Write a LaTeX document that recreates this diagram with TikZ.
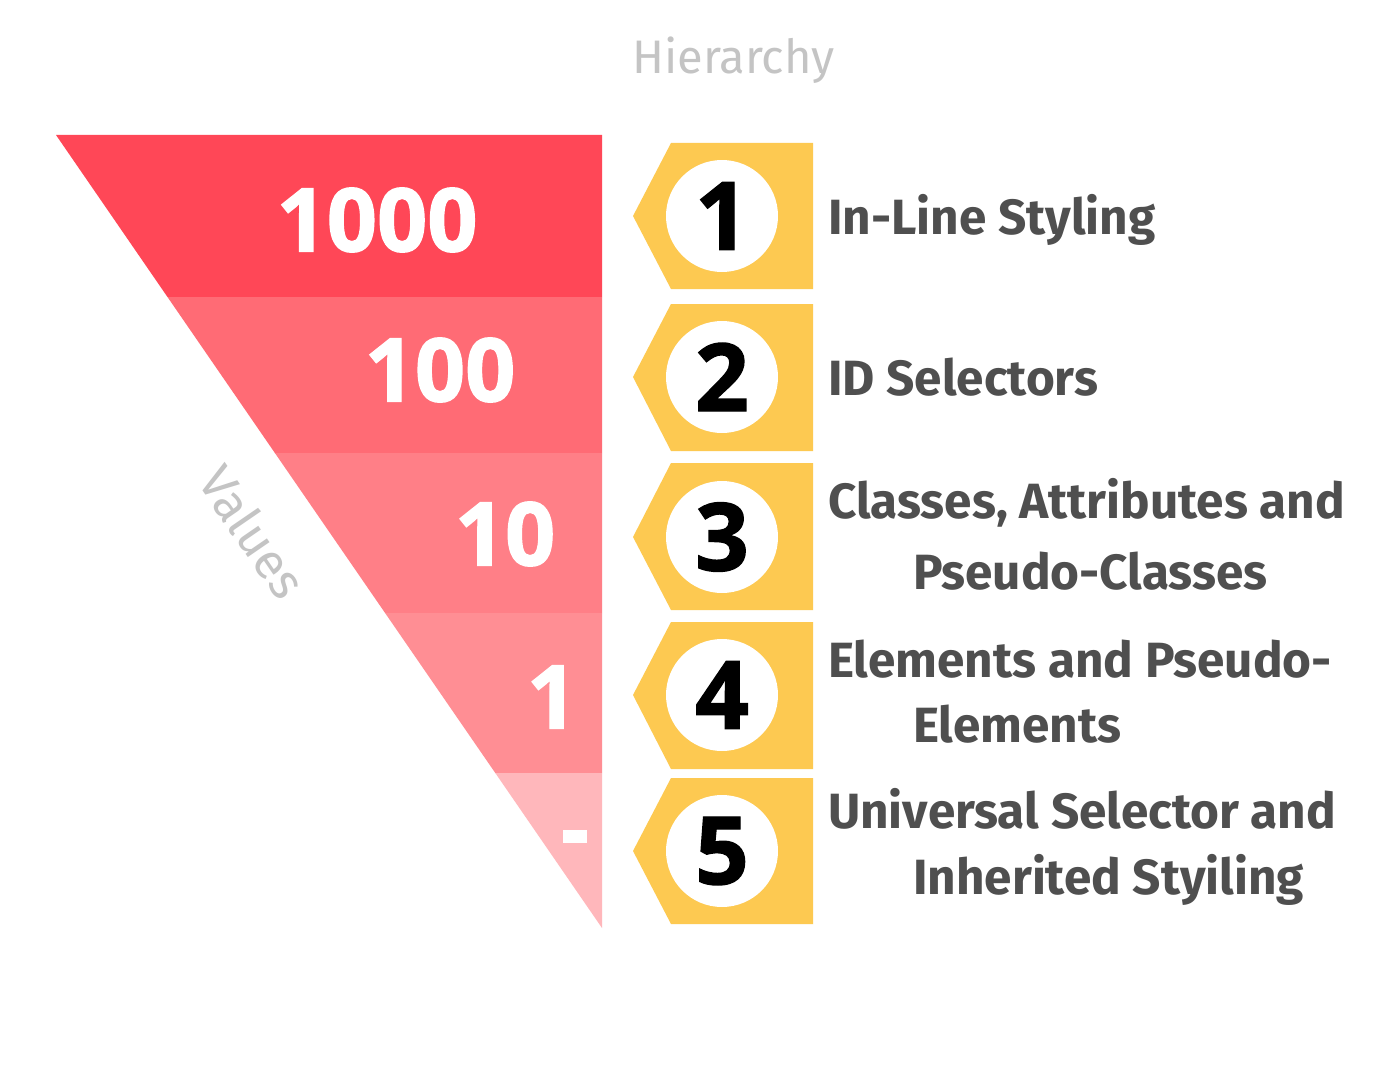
\documentclass[tikz,border=0pt]{standalone}
\usepackage{fontspec}
\setmainfont{Fira Sans}
\newfontfamily\numfont{Open Sans}[BoldFeatures={FakeBold=1.5}]
\definecolor{redA}{HTML}{FF4757}
\definecolor{redB}{HTML}{FF6B75}
\definecolor{redC}{HTML}{FF7F87}
\definecolor{redD}{HTML}{FF8E94}
\definecolor{redE}{HTML}{FFB7BB}
\definecolor{badgeyellow}{HTML}{FDC951}
\definecolor{labelgray}{HTML}{4F4F4F}
\definecolor{softgray}{HTML}{C4C4C4}
\tikzset{
  bignum/.style={inner sep=0pt, text=white, font=\numfont\bfseries\fontsize{88}{88}\selectfont},
  circnum/.style={circle, fill=white, minimum size=112pt, inner sep=0pt, text=black, font=\numfont\bfseries\fontsize{94}{94}\selectfont},
  lbl/.style={inner sep=0pt, anchor=base west, text=labelgray, font=\bfseries\fontsize{49.5}{49.5}\selectfont},
  badge/.style={fill=badgeyellow},
}
\begin{document}
\begin{tikzpicture}[x=1pt,y=-1pt]
\useasboundingbox (0,0) rectangle (1400,1070);
\fill[white] (0,0) rectangle (1400,1070);
% bands of the inverted triangle
\fill[redA] (56,135) -- (602,135) -- (602,297) -- (167.5,297) -- cycle;
\fill[redB] (167.5,297) -- (602,297) -- (602,453) -- (274.9,453) -- cycle;
\fill[redC] (274.9,453) -- (602,453) -- (602,613) -- (385.1,613) -- cycle;
\fill[redD] (385.1,613) -- (602,613) -- (602,773) -- (495.3,773) -- cycle;
\fill[redE] (495.3,773) -- (602,773) -- (602,928) -- cycle;
% values
\node[bignum] (v1) at (377,220) {1000};
\node[bignum] (v2) at (440,370) {100};
\node[bignum] (v3) at (505,534) {10};
\node[bignum] (v4) at (552,697) {1};
\fill[white] (563,830) rectangle (587,843);
\node[inner sep=0pt, text=softgray, rotate=-55.5, font=\fontsize{50}{50}\selectfont] (vals) at (253,532) {Values};
\node[inner sep=0pt, anchor=base west, text=softgray, font=\fontsize{47}{47}\selectfont] (hier) at (632,74) {Hierarchy};
% badges
\fill[badge] (671,143) -- (813,143) -- (813,289) -- (671,289) -- (633,216) -- cycle;
\fill[badge] (671,304) -- (813,304) -- (813,451) -- (671,451) -- (633,377) -- cycle;
\fill[badge] (671,463) -- (813,463) -- (813,610) -- (671,610) -- (633,537) -- cycle;
\fill[badge] (671,622) -- (813,622) -- (813,769) -- (671,769) -- (633,695) -- cycle;
\fill[badge] (671,778) -- (813,778) -- (813,924) -- (671,924) -- (633,851) -- cycle;
\node[circnum] (n1) at (722,216) {1};
\node[circnum] (n2) at (722,377) {2};
\node[circnum] (n3) at (722,537) {3};
\node[circnum] (n4) at (722,695) {4};
\node[circnum] (n5) at (722,851) {5};
% labels
\node[lbl] (l1) at (828,234) {In-Line Styling};
\node[lbl] (l2) at (828,395) {ID Selectors};
\node[lbl] (l3a) at (828,518) {Classes, Attributes and};
\node[lbl] (l3b) at (913,589) {Pseudo-Classes};
\node[lbl] (l4a) at (828,677) {Elements and Pseudo-};
\node[lbl] (l4b) at (913,742) {Elements};
\node[lbl] (l5a) at (828,828) {Universal Selector and};
\node[lbl] (l5b) at (913,894) {Inherited Styiling};
\end{tikzpicture}
\end{document}
